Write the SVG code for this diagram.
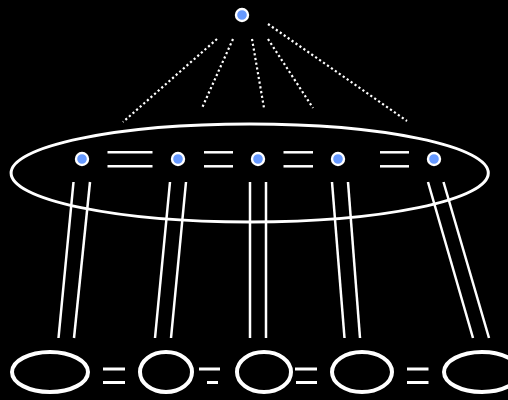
<svg xmlns="http://www.w3.org/2000/svg" width="508" height="400" viewBox="0 0 508 400">
<style>
.ln{stroke:#fff;stroke-width:2.5;fill:none;stroke-linecap:butt}
.dot{stroke:#fff;stroke-width:2.2;fill:none;stroke-dasharray:2.2 2.6}
.nd{fill:#6699ff;stroke:#fff;stroke-width:2.4}
.ring{fill:none;stroke:#fff;stroke-width:4}
.big{fill:none;stroke:#fff;stroke-width:3}
.eq{stroke:#fff;stroke-width:3;fill:none}
</style>
<rect width="508" height="400" fill="#000"/>
<g id="connectors">
<line class="dot" x1="217" y1="39" x2="123" y2="122"/>
<line class="dot" x1="233" y1="39" x2="202" y2="108"/>
<line class="dot" x1="252" y1="39" x2="264" y2="108"/>
<line class="dot" x1="268" y1="39" x2="313" y2="108"/>
<line class="dot" x1="268" y1="24" x2="407" y2="121"/>
<line class="ln" x1="73.5" y1="182" x2="58.5" y2="338"/>
<line class="ln" x1="90" y1="182" x2="74" y2="338"/>
<line class="ln" x1="170" y1="182" x2="155" y2="338"/>
<line class="ln" x1="186" y1="182" x2="171" y2="338"/>
<line class="ln" x1="250" y1="182" x2="250" y2="338"/>
<line class="ln" x1="266" y1="182" x2="266" y2="338"/>
<line class="ln" x1="332" y1="182" x2="344.5" y2="338"/>
<line class="ln" x1="348" y1="182" x2="360" y2="338"/>
<line class="ln" x1="428" y1="182" x2="473" y2="338"/>
<line class="ln" x1="443.5" y1="182" x2="489" y2="338"/>
<line class="ln" x1="107.5" y1="152.3" x2="152.5" y2="152.3"/>
<line class="ln" x1="107.5" y1="166.3" x2="152.5" y2="166.3"/>
<line class="ln" x1="204" y1="152.3" x2="233" y2="152.3"/>
<line class="ln" x1="204" y1="166.3" x2="233" y2="166.3"/>
<line class="ln" x1="283.5" y1="152.3" x2="313" y2="152.3"/>
<line class="ln" x1="283.5" y1="166.3" x2="313" y2="166.3"/>
<line class="ln" x1="380" y1="152.3" x2="409" y2="152.3"/>
<line class="ln" x1="380" y1="166.3" x2="409" y2="166.3"/>
<line class="eq" x1="103" y1="369" x2="125" y2="369"/>
<line class="eq" x1="103" y1="382.5" x2="125" y2="382.5"/>
<line class="eq" x1="199" y1="369" x2="220" y2="369"/>
<line class="eq" x1="207" y1="382.5" x2="218" y2="382.5"/>
<line class="eq" x1="295" y1="369" x2="317" y2="369"/>
<line class="eq" x1="296" y1="382.5" x2="317" y2="382.5"/>
<line class="eq" x1="407" y1="369" x2="428.5" y2="369"/>
<line class="eq" x1="407" y1="382.5" x2="428.5" y2="382.5"/>
</g>
<g id="group-ellipse"><ellipse class="big" cx="249.7" cy="173" rx="238.6" ry="49"/></g>
<g id="root"><circle class="nd" cx="242" cy="15" r="6"/></g>
<g id="n1"><circle class="nd" cx="82" cy="159" r="6"/></g>
<g id="n2"><circle class="nd" cx="178" cy="159" r="6"/></g>
<g id="n3"><circle class="nd" cx="258" cy="159" r="6"/></g>
<g id="n4"><circle class="nd" cx="338" cy="159" r="6"/></g>
<g id="n5"><circle class="nd" cx="434" cy="159" r="6"/></g>
<g id="b1"><ellipse class="ring" cx="50" cy="372" rx="38" ry="20"/></g>
<g id="b2"><ellipse class="ring" cx="166" cy="372" rx="26" ry="20"/></g>
<g id="b3"><ellipse class="ring" cx="264" cy="372" rx="27" ry="20"/></g>
<g id="b4"><ellipse class="ring" cx="362" cy="372" rx="30" ry="20"/></g>
<g id="b5"><ellipse class="ring" cx="482" cy="372" rx="38" ry="20"/></g>
</svg>
